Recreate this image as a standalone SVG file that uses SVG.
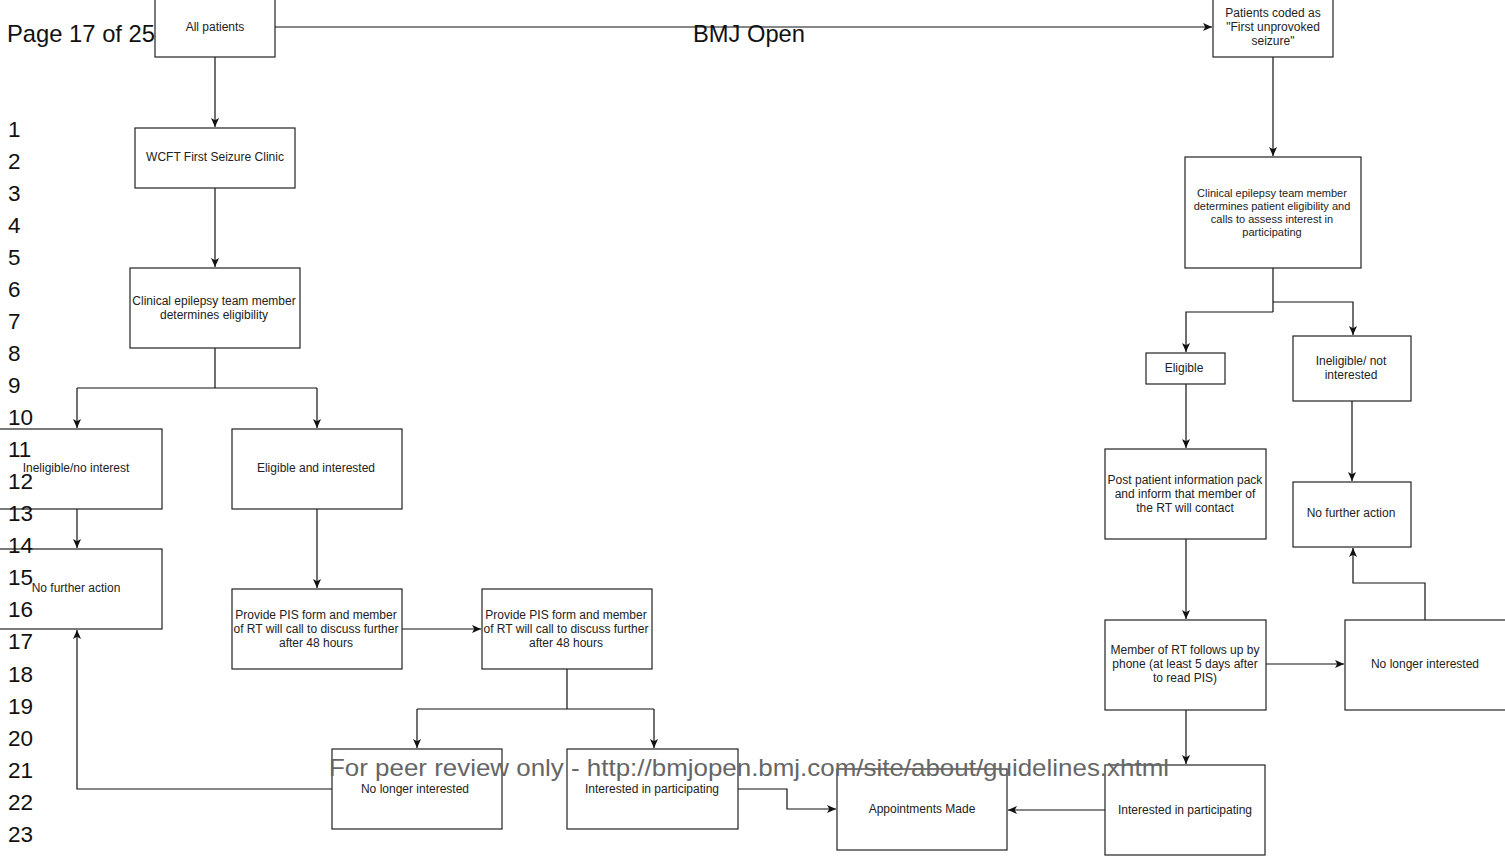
<svg xmlns="http://www.w3.org/2000/svg" width="1505" height="857" viewBox="0 0 1505 857">
<defs>
<marker id="arr" viewBox="0 0 10 10" refX="10" refY="5" markerWidth="9" markerHeight="9" orient="auto" markerUnits="userSpaceOnUse"><path d="M0,0.5 L10,5 L0,9.5 L2.5,5 z" fill="#111"/></marker>
<style>
.box{fill:#fff;stroke:#222;stroke-width:1.2}
.t{font-family:"Liberation Sans",Arial,sans-serif;font-size:12px;fill:#222;text-anchor:middle}
.s{font-size:11px}
.c{fill:none;stroke:#111;stroke-width:1.2}
.a{marker-end:url(#arr)}
.ov{font-family:"Liberation Sans",Arial,sans-serif;font-size:24px;fill:#111}
.ln{font-family:"Liberation Sans",Arial,sans-serif;font-size:22.5px;fill:#111}
.ft{font-family:"Liberation Sans",Arial,sans-serif;font-size:24px;fill:#666}
</style>
</defs>
<rect width="1505" height="857" fill="#fff"/>

<g id="connectors">
<path class="c a" d="M275,27 H1212"/>
<path class="c a" d="M215,57 V127"/>
<path class="c a" d="M215,188 V267"/>
<path class="c" d="M215,348 V388 M77,388 H317"/>
<path class="c a" d="M77,388 V428"/>
<path class="c a" d="M317,388 V428"/>
<path class="c a" d="M77,509 V548"/>
<path class="c a" d="M317,509 V588"/>
<path class="c a" d="M402,629 H481"/>
<path class="c" d="M567,669 V709 M417,709 H654"/>
<path class="c a" d="M417,709 V748"/>
<path class="c a" d="M654,709 V748"/>
<path class="c a" d="M332,789 H77 V630"/>
<path class="c a" d="M738,789 H787 V809 H836"/>
<path class="c a" d="M1105,810 H1008"/>
<path class="c a" d="M1273,57 V156"/>
<path class="c" d="M1273,268 V312"/>
<path class="c a" d="M1273,312 H1186 V352"/>
<path class="c a" d="M1273,302 H1353 V335"/>
<path class="c a" d="M1186,384 V448"/>
<path class="c a" d="M1352,401 V481"/>
<path class="c a" d="M1186,539 V619"/>
<path class="c a" d="M1266,664 H1344"/>
<path class="c a" d="M1425,620 V583 H1353 V548"/>
<path class="c a" d="M1186,710 V764"/>
</g>

<g id="n-all"><rect class="box" x="155" y="-3" width="120" height="60"/><text class="t" x="215" y="31">All patients</text></g>
<g id="n-coded"><rect class="box" x="1213" y="-3" width="120" height="60"/><text class="t" x="1273" y="17">Patients coded as</text><text class="t" x="1273" y="31">"First unprovoked</text><text class="t" x="1273" y="45">seizure"</text></g>
<g id="n-wcft"><rect class="box" x="135" y="128" width="160" height="60"/><text class="t" x="215" y="161">WCFT First Seizure Clinic</text></g>
<g id="n-clin-l"><rect class="box" x="130" y="268" width="170" height="80"/><text class="t" x="214" y="305">Clinical epilepsy team member</text><text class="t" x="214" y="319">determines eligibility</text></g>
<g id="n-inel-l"><rect class="box" x="-8" y="429" width="170" height="80"/><text class="t" x="76" y="472">Ineligible/no interest</text></g>
<g id="n-nfa-l"><rect class="box" x="-8" y="549" width="170" height="80"/><text class="t" x="76" y="592">No further action</text></g>
<g id="n-elig-int"><rect class="box" x="232" y="429" width="170" height="80"/><text class="t" x="316" y="472">Eligible and interested</text></g>
<g id="n-pis1"><rect class="box" x="232" y="589" width="170" height="80"/><text class="t" x="316" y="619">Provide PIS form and member</text><text class="t" x="316" y="633">of RT will call to discuss further</text><text class="t" x="316" y="647">after 48 hours</text></g>
<g id="n-pis2"><rect class="box" x="482" y="589" width="170" height="80"/><text class="t" x="566" y="619">Provide PIS form and member</text><text class="t" x="566" y="633">of RT will call to discuss further</text><text class="t" x="566" y="647">after 48 hours</text></g>
<g id="n-nli-l"><rect class="box" x="332" y="749" width="170" height="80"/><text class="t" x="415" y="793">No longer interested</text></g>
<g id="n-iip-l"><rect class="box" x="567" y="749" width="171" height="80"/><text class="t" x="652" y="793">Interested in participating</text></g>
<g id="n-appt"><rect class="box" x="837" y="769" width="170" height="81"/><text class="t" x="922" y="813">Appointments Made</text></g>
<g id="n-iip-r"><rect class="box" x="1105" y="765" width="160" height="90"/><text class="t" x="1185" y="814">Interested in participating</text></g>
<g id="n-clin-r"><rect class="box" x="1185" y="157" width="176" height="111"/><text class="t s" x="1272" y="197">Clinical epilepsy team member</text><text class="t s" x="1272" y="210">determines patient eligibility and</text><text class="t s" x="1272" y="223">calls to assess interest in</text><text class="t s" x="1272" y="236">participating</text></g>
<g id="n-elig-r"><rect class="box" x="1146" y="353" width="79" height="31"/><text class="t" x="1184" y="372">Eligible</text></g>
<g id="n-inel-r"><rect class="box" x="1293" y="336" width="118" height="65"/><text class="t" x="1351" y="365">Ineligible/ not</text><text class="t" x="1351" y="379">interested</text></g>
<g id="n-post"><rect class="box" x="1105" y="449" width="161" height="90"/><text class="t" x="1185" y="484">Post patient information pack</text><text class="t" x="1185" y="498">and inform that member of</text><text class="t" x="1185" y="512">the RT will contact</text></g>
<g id="n-nfa-r"><rect class="box" x="1293" y="482" width="118" height="65"/><text class="t" x="1351" y="517">No further action</text></g>
<g id="n-member"><rect class="box" x="1105" y="620" width="161" height="90"/><text class="t" x="1185" y="654">Member of RT follows up by</text><text class="t" x="1185" y="668">phone (at least 5 days after</text><text class="t" x="1185" y="682">to read PIS)</text></g>
<g id="n-nli-r"><rect class="box" x="1345" y="620" width="170" height="90"/><text class="t" x="1425" y="668">No longer interested</text></g>

<g id="page-overlay">
<text class="ov" x="7" y="42" textLength="148" lengthAdjust="spacingAndGlyphs">Page 17 of 25</text>
<text class="ov" x="693" y="42" textLength="112" lengthAdjust="spacingAndGlyphs">BMJ Open</text>
<text class="ft" x="329" y="776" textLength="840" lengthAdjust="spacingAndGlyphs">For peer review only - http://bmjopen.bmj.com/site/about/guidelines.xhtml</text>
<text class="ln" x="8" y="137">1</text>
<text class="ln" x="8" y="169">2</text>
<text class="ln" x="8" y="201">3</text>
<text class="ln" x="8" y="233">4</text>
<text class="ln" x="8" y="265">5</text>
<text class="ln" x="8" y="297">6</text>
<text class="ln" x="8" y="329">7</text>
<text class="ln" x="8" y="361">8</text>
<text class="ln" x="8" y="393">9</text>
<text class="ln" x="8" y="425">10</text>
<text class="ln" x="8" y="457">11</text>
<text class="ln" x="8" y="489">12</text>
<text class="ln" x="8" y="521">13</text>
<text class="ln" x="8" y="553">14</text>
<text class="ln" x="8" y="585">15</text>
<text class="ln" x="8" y="617">16</text>
<text class="ln" x="8" y="649">17</text>
<text class="ln" x="8" y="682">18</text>
<text class="ln" x="8" y="714">19</text>
<text class="ln" x="8" y="746">20</text>
<text class="ln" x="8" y="778">21</text>
<text class="ln" x="8" y="810">22</text>
<text class="ln" x="8" y="842">23</text>
</g>
</svg>
